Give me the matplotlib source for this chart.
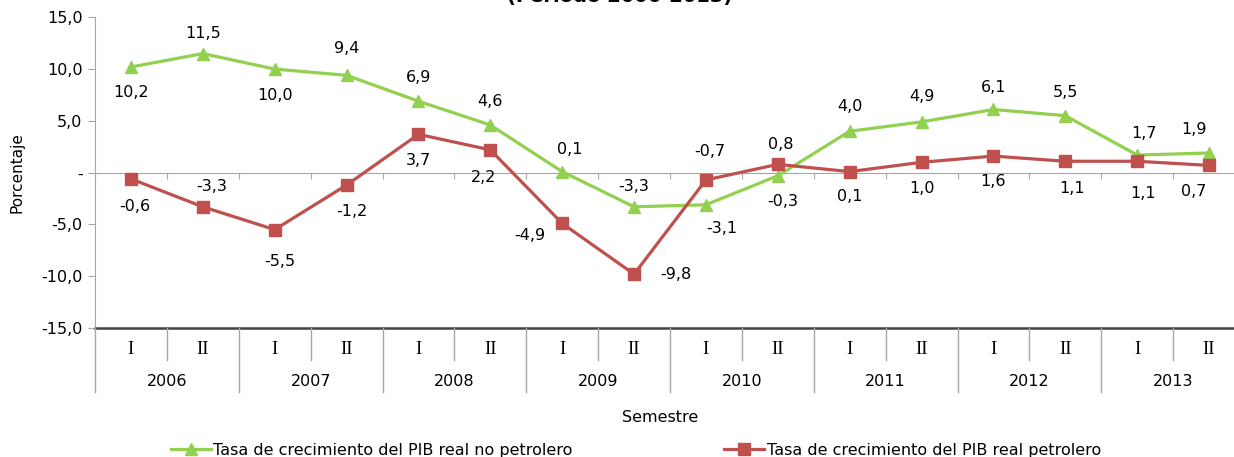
import matplotlib.pyplot as plt
import numpy as np

# 半期ごとのデータ
years = ['2006', '2007', '2008', '2009', '2010', '2011', '2012', '2013']
halves = ['I', 'II']
no_petrolero = [10.2, 11.5, 10.0, 9.4, 6.9, 4.6, 0.1, -3.3,
                -3.1, -0.3, 4.0, 4.9, 6.1, 5.5, 1.7, 1.9]
petrolero = [-0.6, -3.3, -5.5, -1.2, 3.7, 2.2, -4.9, -9.8,
             -0.7, 0.8, 0.1, 1.0, 1.6, 1.1, 1.1, 0.7]
yticks = [15, 10, 5, 0, -5, -10, -15]

# ラベルの位置調整 (px)
off_green = [(0, 25), (0, -20), (0, 26), (0, -27), (0, -24), (0, -24), (8, -22), (0, -20),
             (16, 24), (5, 26), (0, -25), (0, -25), (0, -22), (0, -23), (7, -22), (-15, -23)]
off_red = [(4, 28), (9, -20), (5, 32), (5, 26), (0, 26), (-7, 28), (-32, 12), (42, 0),
           (4, -28), (3, -20), (0, 25), (0, 26), (0, 25), (7, 27), (6, 32), (-15, 26)]

GREEN = '#92D050'
RED = '#C0504D'
GRAY = '#A6A6A6'
FS = 11.5

W, H = 1234, 457
fig = plt.figure(figsize=(W / 100, H / 100), dpi=100)
AX_L, AX_R, AX_T, AX_B = 95, 1245, 17.3, 328
AX_H = AX_B - AX_T
ax = fig.add_axes([AX_L / W, (H - AX_B) / H, (AX_R - AX_L) / W, AX_H / H])

x = np.arange(len(no_petrolero))
ax.plot(x, no_petrolero, color=GREEN, lw=2.3, marker='^', ms=9, mec=GREEN, mfc=GREEN,
        label='Tasa de crecimiento del PIB real no petrolero', zorder=3)
ax.plot(x, petrolero, color=RED, lw=2.3, marker='s', ms=8, mec=RED, mfc=RED,
        label='Tasa de crecimiento del PIB real petrolero', zorder=4)

def fmt(v):
    return f'{v:.1f}'.replace('.', ',')

for i in x:
    ax.annotate(fmt(no_petrolero[i]), (i, no_petrolero[i]), xytext=(off_green[i][0], -off_green[i][1]),
                textcoords='offset pixels', ha='center', va='center', fontsize=FS, zorder=5)
    ax.annotate(fmt(petrolero[i]), (i, petrolero[i]), xytext=(off_red[i][0], -off_red[i][1]),
                textcoords='offset pixels', ha='center', va='center', fontsize=FS, zorder=5)

ax.set_xlim(-0.5, len(x) - 0.5)
ax.set_ylim(-15, 15)
ax.set_yticks(yticks)
ax.set_yticklabels(['-' if v == 0 else fmt(v) for v in yticks], fontsize=FS)
ax.tick_params(axis='y', length=5, color=GRAY, pad=4)

# 0 の線を横軸にする
ax.spines['bottom'].set_position(('data', 0))
ax.spines['bottom'].set_color(GRAY)
ax.spines['left'].set_color(GRAY)
ax.spines['top'].set_visible(False)
ax.spines['right'].set_visible(False)
ax.set_xticks(np.arange(len(x) + 1) - 0.5)
ax.set_xticklabels([])
ax.tick_params(axis='x', length=4, color=GRAY, direction='out')

# -15 の線
ax.axhline(-15, color='#404040', lw=1.8, zorder=2, clip_on=False)

# 2段のカテゴリ軸
tr = ax.get_xaxis_transform()
for i in x:
    ax.text(i, -22 / AX_H, halves[i % 2], transform=tr, ha='center', va='center',
            fontsize=13.5, family='Liberation Serif')
for b in range(len(x) + 1):
    depth = 64 if b % 2 == 0 else 32
    ax.plot([b - 0.5, b - 0.5], [0, -depth / AX_H], transform=tr, color=GRAY, lw=1, clip_on=False)
for k, yr in enumerate(years):
    ax.text(2 * k + 0.5, -53 / AX_H, yr, transform=tr, ha='center', va='center', fontsize=FS)

fig.text(17 / W, 1 - 173 / H, 'Porcentaje', rotation=90, ha='center', va='center', fontsize=11)
fig.text(660 / W, 1 - 417 / H, 'Semestre', ha='center', va='center', fontsize=FS)
fig.text(620 / W, 1 - 2 / H, '(Período 2006-2013)', ha='center', va='baseline',
         fontsize=14, fontweight='bold')

fig.legend(loc='center left', bbox_to_anchor=(171 / W, 1 - 450 / H), ncol=2, frameon=False,
           fontsize=FS, handlelength=2.5, handletextpad=0.15, columnspacing=9.5,
           borderpad=0, borderaxespad=0)

fig.savefig('out.png', dpi=100)
